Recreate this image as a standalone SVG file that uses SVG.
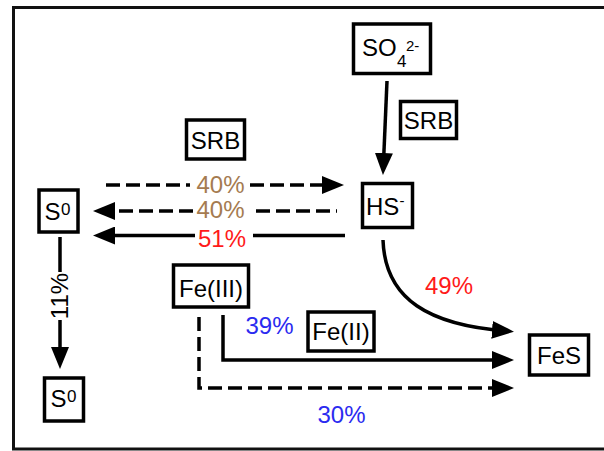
<svg xmlns="http://www.w3.org/2000/svg" width="604" height="451" viewBox="0 0 604 451">
<defs>
<style>
.box{fill:#fff;stroke:#000;stroke-width:3.5}
.t{font-family:"Liberation Sans",Arial,sans-serif;font-size:24px;fill:#000}
.ln{fill:none;stroke:#000;stroke-width:3.5}
.ds{stroke-dasharray:14 6}
.brown{fill:#A57B50}
.red{fill:#FF1A1A}
.blue{fill:#2B2BF0}
</style>
<marker id="ah" viewBox="0 0 22 18" markerWidth="22" markerHeight="18" refX="14" refY="9" orient="auto" markerUnits="userSpaceOnUse">
<path d="M0,0 L22,9 L0,18 Z" fill="#000"/>
</marker>
</defs>
<rect x="13.5" y="7.5" width="700" height="441.5" fill="#fff" stroke="#111" stroke-width="3"/>

<g id="connectors">
<path class="ln" d="M387,81 L383.3,167" marker-end="url(#ah)"/>
<path class="ln ds" d="M106,185 L190,185"/>
<path class="ln ds" d="M250,185 L336,185" marker-end="url(#ah)"/>
<path class="ln ds" d="M256,211 L337,211"/>
<path class="ln ds" d="M193,211 L101,211" marker-end="url(#ah)"/>
<path class="ln" d="M345,235.5 L253,235.5"/>
<path class="ln" d="M195,235.5 L101,235.5" marker-end="url(#ah)"/>
<path class="ln" d="M60,237 L60,272"/>
<path class="ln" d="M60,320 L60,361" marker-end="url(#ah)"/>
<path class="ln" d="M383,240 C385,300 430,325 506,331" marker-end="url(#ah)"/>
<path class="ln" d="M223,315 L223,360 L506,360" marker-end="url(#ah)"/>
<path class="ln ds" d="M199,317 L199,388 L506,388" marker-end="url(#ah)"/>
</g>

<g id="labels">
<text class="t brown" x="220.5" y="192.5" text-anchor="middle">40%</text>
<text class="t brown" x="220.5" y="218" text-anchor="middle">40%</text>
<text class="t red" x="222" y="246.5" text-anchor="middle">51%</text>
<text class="t red" x="449" y="293.5" text-anchor="middle">49%</text>
<text class="t blue" x="269.5" y="333.5" text-anchor="middle">39%</text>
<text class="t blue" x="341.5" y="422.5" text-anchor="middle">30%</text>
<text class="t" transform="translate(68,296) rotate(-90)" text-anchor="middle">11%</text>
</g>

<g id="so4">
<rect class="box" x="353.5" y="24" width="77" height="49.5"/>
<text class="t" x="362" y="56">SO<tspan x="397" y="67" font-size="17">4</tspan><tspan x="406" y="51" font-size="15">2-</tspan></text>
</g>
<g id="srb-right">
<rect class="box" x="400.5" y="101.5" width="56" height="37"/>
<text class="t" x="428.5" y="128.5" text-anchor="middle">SRB</text>
</g>
<g id="srb-left">
<rect class="box" x="186.5" y="120" width="58" height="39"/>
<text class="t" x="215.5" y="148.5" text-anchor="middle">SRB</text>
</g>
<g id="hs">
<rect class="box" x="362.5" y="183.5" width="50" height="44"/>
<text class="t" x="366" y="215">HS<tspan x="399.5" y="206" font-size="15">-</tspan></text>
</g>
<g id="s0-top">
<rect class="box" x="39" y="190" width="39" height="42"/>
<text class="t" x="44.5" y="220">S<tspan x="61" y="215" font-size="17">0</tspan></text>
</g>
<g id="s0-bottom">
<rect class="box" x="44.5" y="378" width="39" height="43"/>
<text class="t" x="50.5" y="407">S<tspan x="67" y="402" font-size="17">0</tspan></text>
</g>
<g id="fe3">
<rect class="box" x="173.5" y="265" width="75" height="42"/>
<text class="t" x="211" y="297" text-anchor="middle">Fe(III)</text>
</g>
<g id="fe2">
<rect class="box" x="308" y="312" width="66" height="39"/>
<text class="t" x="341" y="340" text-anchor="middle">Fe(II)</text>
</g>
<g id="fes">
<rect class="box" x="529.5" y="335" width="59" height="40"/>
<text class="t" x="559" y="363.5" text-anchor="middle">FeS</text>
</g>
</svg>
